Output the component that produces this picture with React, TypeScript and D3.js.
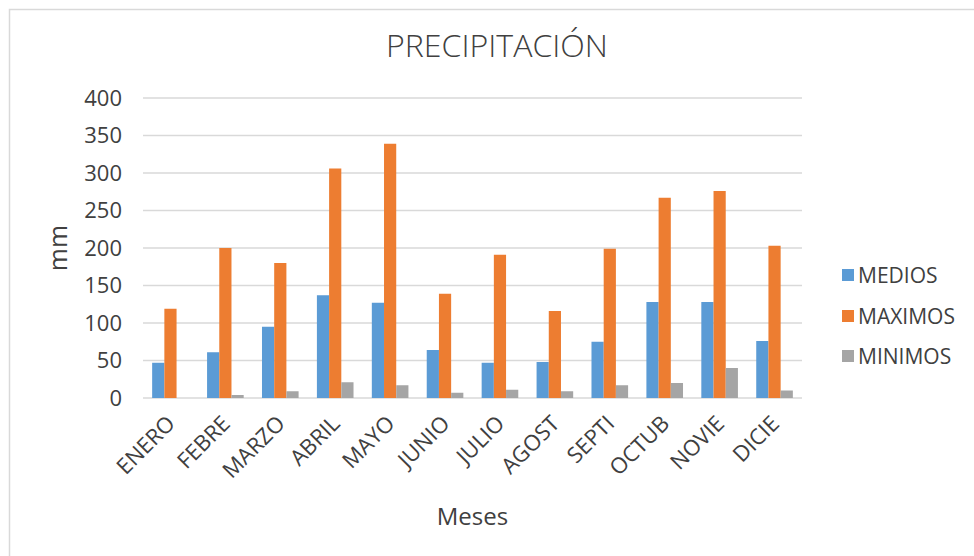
import React from "react";
import * as d3 from "d3";

const months = ["ENERO", "FEBRE", "MARZO", "ABRIL", "MAYO", "JUNIO", "JULIO", "AGOST", "SEPTI", "OCTUB", "NOVIE", "DICIE"];
const seriesNames = ["MEDIOS", "MAXIMOS", "MINIMOS"];
const medios = [47, 61, 95, 137, 127, 64, 47, 48, 75, 128, 128, 76];
const maximos = [119, 200, 180, 306, 339, 139, 191, 116, 199, 267, 276, 203];
const minimos = [0, 4, 9, 21, 17, 7, 11, 9, 17, 20, 40, 10];
const yTicks = [0, 50, 100, 150, 200, 250, 300, 350, 400];
const colors = ["#5b9bd5", "#ed7d31", "#a5a5a5"];

const FONT = "'Open Sans', sans-serif";
const TXT = "#404040";

export default function App() {
  const W = 974, H = 556;
  const left = 143, right = 802, top = 98, bottom = 398;
  const x = d3.scaleBand<string>().domain(months).range([left, right]).padding(0);
  const bw = x.bandwidth();
  const barW = bw / 4.5;
  const xs = d3.scaleBand<string>().domain(seriesNames).range([barW * 0.75, bw - barW * 0.75]).padding(0);
  const y = d3.scaleLinear().domain([0, 400]).range([bottom, top]);
  const data = [medios, maximos, minimos];
  const legendY = [275, 316, 356];

  return (
    <svg width={W} height={H} style={{ position: "absolute", left: 0, top: 0, background: "#fff" }} fontFamily={FONT}>
      <rect x={0} y={0} width={W} height={H} fill="#fff" />
      <rect x={9.5} y={9.5} width={1100} height={700} fill="none" stroke="#d9d9d9" strokeWidth={1.5} />
      <text x={497} y={57} textAnchor="middle" fontSize={31} fill={TXT} fontWeight={300} textLength={222} lengthAdjust="spacingAndGlyphs">PRECIPITACIÓN</text>
      {yTicks.map((t) => (
        <g key={t}>
          <line x1={left} x2={right} y1={y(t)} y2={y(t)} stroke="#d9d9d9" strokeWidth={1.5} />
          <text x={122} y={y(t)} dy="0.36em" textAnchor="end" fontSize={22} fill={TXT}>{t}</text>
        </g>
      ))}
      {data.map((arr, si) =>
        arr.map((v, i) => (
          <rect key={si + "-" + i}
            x={(x(months[i]) as number) + (xs(seriesNames[si]) as number)}
            y={y(v)}
            width={xs.bandwidth()}
            height={bottom - y(v)}
            fill={colors[si]} />
        ))
      )}
      {months.map((m) => (
        <text key={m}
          transform={`translate(${(x(m) as number) + bw / 2 + 6},${425}) rotate(-45)`}
          textAnchor="end" fontSize={22} fill={TXT}>{m}</text>
      ))}
      <text transform={`translate(67,${(top + bottom) / 2}) rotate(-90)`} textAnchor="middle" fontSize={25} fill={TXT}>mm</text>
      <text x={(left + right) / 2} y={525} textAnchor="middle" fontSize={24} fill={TXT}>Meses</text>
      {seriesNames.map((s, i) => (
        <g key={s}>
          <rect x={842} y={legendY[i] - 6} width={12} height={12} fill={colors[i]} />
          <text x={858} y={legendY[i]} dy="0.36em" fontSize={21} fill={TXT}>{s}</text>
        </g>
      ))}
    </svg>
  );
}
